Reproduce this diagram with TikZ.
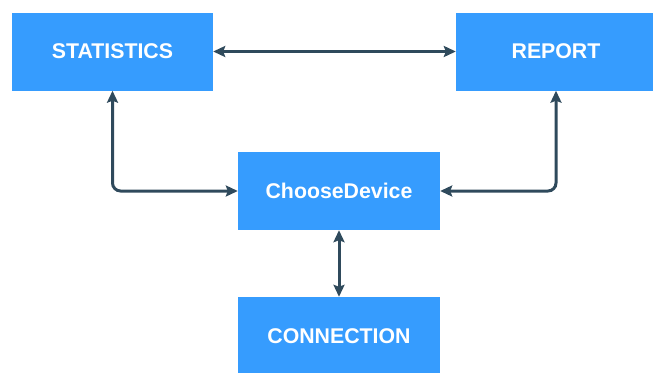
\documentclass[tikz,border=0pt]{standalone}
\usepackage{fontspec}
\setmainfont{Liberation Sans}
\usetikzlibrary{arrows.meta}
\definecolor{boxblue}{HTML}{369CFE}
\definecolor{linecol}{HTML}{2F4A5C}
\tikzset{
  blockbox/.style={fill=boxblue, draw=none, text=white, minimum width=201pt, minimum height=78pt,
    inner sep=0pt, font=\fontsize{21.3}{25}\selectfont\bfseries},
  conn/.style={draw=linecol, line width=3pt, rounded corners=8pt,
    {Stealth[length=12pt,width=11pt,inset=2pt]}-{Stealth[length=12pt,width=11pt,inset=2pt]}}
}
\begin{document}
\begin{tikzpicture}[x=1pt,y=-1pt]
\useasboundingbox (0,0) rectangle (653,372);
\clip (0,0) rectangle (653,372);
\node[blockbox] (stat) at (112.5,51.5) {STATISTICS};
\node[blockbox, minimum width=200pt] (rep) at (556,51.5) {REPORT};
\node[blockbox, minimum width=202pt] (cd) at (339,191) {ChooseDevice};
\node[blockbox, minimum width=202pt] (cn) at (339,336) {CONNECTION};
\draw[conn] (stat.east) -- (rep.west);
\draw[conn] (stat.south) |- (cd.west);
\draw[conn] (rep.south) |- (cd.east);
\draw[conn] (cd.south) -- (cn.north);
\end{tikzpicture}
\end{document}
